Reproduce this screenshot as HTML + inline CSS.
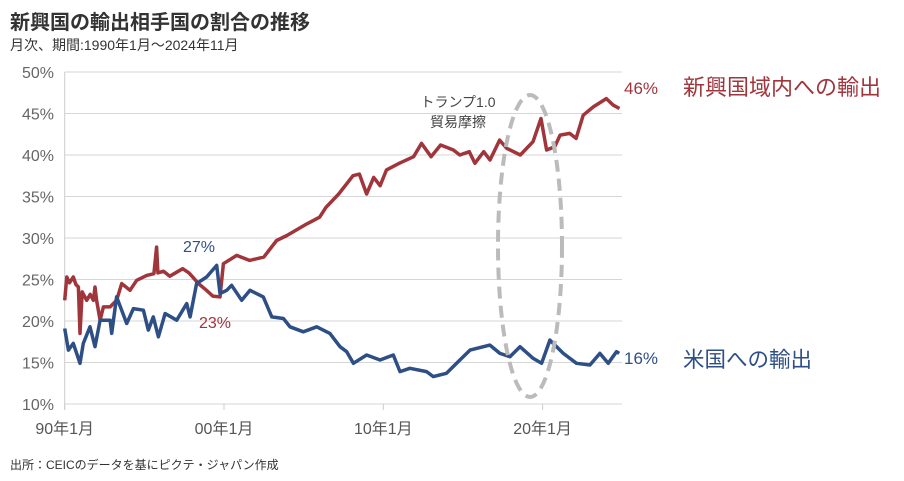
<!DOCTYPE html>
<html><head><meta charset="utf-8"><style>
body{margin:0;background:#fff;}
svg text{font-family:"Liberation Sans","Noto Sans CJK JP",sans-serif;}
</style></head><body>
<svg id="c" width="904" height="476" viewBox="0 0 904 476" xmlns="http://www.w3.org/2000/svg">
<text x="10" y="29" font-size="20" font-weight="bold" fill="#333">新興国の輸出相手国の割合の推移</text>
<text x="10" y="50" font-size="14" fill="#333">月次、期間:1990年1月～2024年11月</text>
<text x="10" y="469" font-size="12" fill="#333">出所：CEICのデータを基にピクテ・ジャパン作成</text>
<g id="grid"></g><g id="axes"></g><g id="series"></g>
<ellipse cx="530" cy="246" rx="32" ry="151" fill="none" stroke="#bbb" stroke-width="4" stroke-dasharray="12,7"/>
<text x="458" y="107" font-size="14" fill="#444" text-anchor="middle">トランプ1.0</text>
<text x="458" y="127" font-size="14" fill="#444" text-anchor="middle">貿易摩擦</text>
<text x="624" y="94" font-size="17" fill="#a0353b">46%</text>
<text x="683" y="95" font-size="22" fill="#a0353b">新興国域内への輸出</text>
<text x="624" y="364" font-size="17" fill="#2e4f86">16%</text>
<text x="683" y="367" font-size="21.5" fill="#2e4f86">米国への輸出</text>
<text x="183" y="252" font-size="16" fill="#2e4f86">27%</text>
<text x="199" y="328" font-size="16" fill="#a0353b">23%</text>
</svg>
<script>
const yTicks=[10,15,20,25,30,35,40,45,50];
const xTickYears=[1990,2000,2010,2020];
const xTickLabels=["90年1月","00年1月","10年1月","20年1月"];
const emDates=[1990.0,1990.13,1990.3,1990.54,1990.7,1990.86,1990.96,1991.1,1991.38,1991.6,1991.8,1991.9,1992.0,1992.22,1992.43,1992.85,1993.26,1993.58,1994.1,1994.52,1995.15,1995.6,1995.77,1995.85,1996.2,1996.6,1997.41,1997.8,1998.08,1998.4,1998.9,1999.3,1999.75,1999.96,2000.8,2001.6,2002.5,2003.3,2003.95,2005.2,2006.0,2006.4,2007.2,2008.1,2008.5,2008.95,2009.4,2009.8,2010.2,2011.0,2011.9,2012.4,2013.0,2013.6,2014.4,2014.8,2015.4,2015.75,2016.3,2016.7,2017.3,2017.75,2018.6,2019.4,2019.9,2020.25,2020.76,2021.1,2021.7,2022.1,2022.55,2023.18,2024.0,2024.44,2024.83];
const emValues=[22.5,25.3,24.6,25.3,24.4,24.1,18.5,23.5,22.5,23.2,22.5,24.1,22.5,20.1,21.7,21.7,22.5,24.5,23.7,24.9,25.5,25.7,28.9,25.8,26.0,25.4,26.3,25.8,25.2,24.5,23.7,23.0,22.9,26.9,27.9,27.3,27.7,29.7,30.3,31.7,32.5,33.7,35.3,37.5,37.7,35.3,37.3,36.3,38.2,39.0,39.8,41.4,39.8,41.2,40.6,40.0,40.4,39.0,40.4,39.4,41.8,40.8,40.0,41.6,44.4,40.6,41.0,42.4,42.6,42.0,44.8,45.8,46.8,46.0,45.6];
const usDates=[1990.0,1990.23,1990.54,1990.96,1991.17,1991.59,1991.9,1992.22,1992.85,1992.95,1993.26,1993.89,1994.31,1994.94,1995.25,1995.56,1995.88,1996.3,1997.03,1997.66,1997.87,1998.28,1998.91,1999.54,1999.75,2000.17,2000.48,2001.11,2001.63,2002.47,2003.0,2003.73,2004.14,2004.98,2005.82,2006.65,2007.28,2007.7,2008.12,2008.95,2009.8,2010.63,2011.05,2011.67,2012.72,2013.14,2013.97,2014.81,2015.44,2016.69,2017.32,2017.95,2018.58,2019.41,2019.94,2020.46,2021.3,2022.13,2022.97,2023.6,2024.12,2024.64,2024.81];
const usValues=[19.1,16.5,17.3,14.9,17.3,19.3,16.9,20.1,20.1,18.5,22.9,19.7,21.5,21.3,18.9,20.5,18.1,20.9,20.1,22.1,20.5,24.5,25.3,26.7,23.3,23.7,24.3,22.5,23.7,22.9,20.5,20.3,19.3,18.7,19.3,18.5,16.9,16.3,14.9,15.9,15.3,15.9,13.9,14.3,13.9,13.3,13.7,15.3,16.5,17.1,16.1,15.7,16.9,15.5,14.9,17.7,16.1,14.9,14.7,16.1,14.9,16.3,16.1];
const X0=64.7,XW=15.93,Y0=404,YU=8.3;
const xs=t=>X0+(t-1990)*XW;
const ys=v=>Y0-(v-10)*YU;
const NS="http://www.w3.org/2000/svg";
const grid=document.getElementById('grid'),axes=document.getElementById('axes'),ser=document.getElementById('series');
yTicks.forEach(v=>{
 const l=document.createElementNS(NS,'line');
 l.setAttribute('x1',X0);l.setAttribute('x2',622);l.setAttribute('y1',ys(v));l.setAttribute('y2',ys(v));
 l.setAttribute('stroke','#d6d6d6');l.setAttribute('stroke-width','1');
 
 
 grid.appendChild(l);
 const t=document.createElementNS(NS,'text');
 t.setAttribute('x',54);t.setAttribute('y',ys(v)+6);t.setAttribute('text-anchor','end');
 t.setAttribute('font-size','16');t.setAttribute('fill','#666');t.textContent=v+'%';
 
 
 axes.appendChild(t);
});
const ax=document.createElementNS(NS,'line');
ax.setAttribute('x1',X0);ax.setAttribute('x2',X0);ax.setAttribute('y1',ys(50));ax.setAttribute('y2',Y0+6);
ax.setAttribute('stroke','#ccc');


axes.appendChild(ax);
xTickYears.forEach((yr,i)=>{
 const l=document.createElementNS(NS,'line');
 l.setAttribute('x1',xs(yr));l.setAttribute('x2',xs(yr));l.setAttribute('y1',Y0);l.setAttribute('y2',Y0+6);
 l.setAttribute('stroke','#ccc');
 
 
 axes.appendChild(l);
 const t=document.createElementNS(NS,'text');
 t.setAttribute('x',xs(yr));t.setAttribute('y',434);t.setAttribute('text-anchor','middle');
 t.setAttribute('font-size','16');t.setAttribute('fill','#555');t.textContent=xTickLabels[i];
 
 
 axes.appendChild(t);
});
function line(dates,vals,color,name){
 const n=Math.min(dates.length,vals.length);
 let d='';for(let i=0;i<n;i++)d+=(i?'L':'M')+xs(dates[i]).toFixed(1)+','+ys(vals[i]).toFixed(1);
 const p=document.createElementNS(NS,'path');
 p.setAttribute('d',d);p.setAttribute('fill','none');p.setAttribute('stroke',color);
 p.setAttribute('stroke-width','3.5');p.setAttribute('stroke-linejoin','round');
 
 
 ser.appendChild(p);
}
line(emDates,emValues,'#a0353b','em-intra-export-line');
line(usDates,usValues,'#2e4f86','us-export-line');
</script>
</body></html>
